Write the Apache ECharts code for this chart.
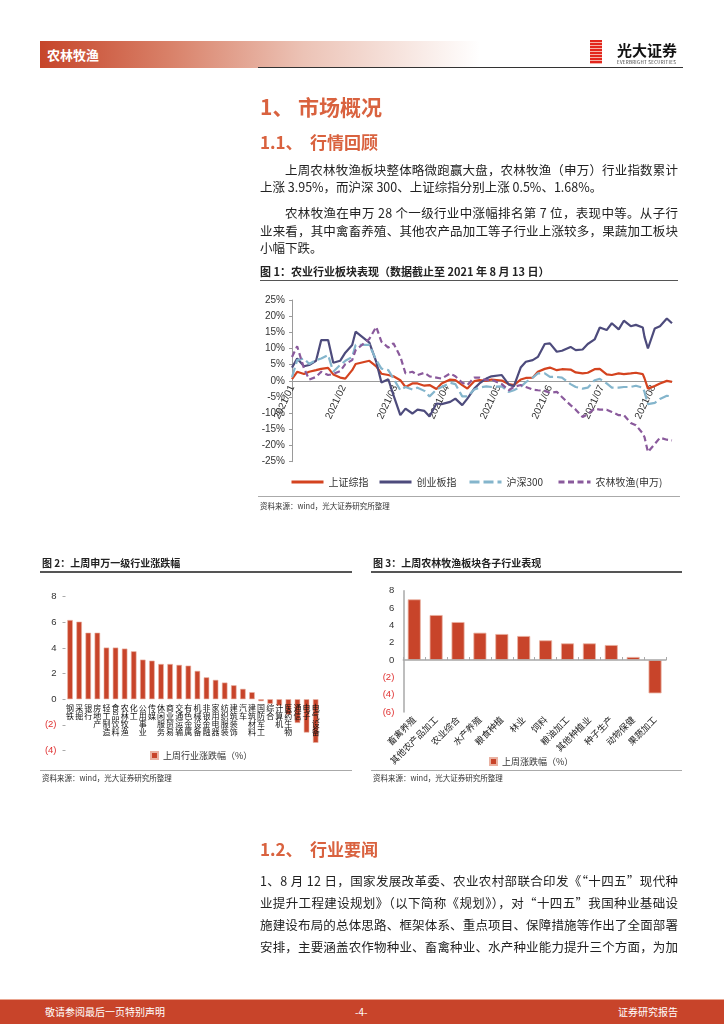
<!DOCTYPE html>
<html><head><meta charset="utf-8">
<script src="https://cdn.jsdelivr.net/npm/echarts@6/dist/echarts.min.js"></script>
<style>
html,body{margin:0;padding:0;background:#fff;}
#page{position:relative;width:724px;height:1024px;overflow:hidden;font-family:"Noto Sans CJK SC",sans-serif;color:#222;}
#chart{position:absolute;left:0;top:0;width:724px;height:1024px;z-index:1;}
.t{position:absolute;white-space:nowrap;line-height:1;z-index:2;}
.b{font-size:12.5px;color:#222;}
.h1{font-size:21px;color:#d9623f;font-weight:bold;}
.h2{font-size:17px;color:#d9623f;font-weight:bold;}
.cap{font-size:11px;font-weight:bold;color:#222;}
.cap2{font-size:10px;font-weight:bold;color:#222;}
.src{font-size:7.5px;color:#333;}
.ln{position:absolute;z-index:2;}
.ft{font-size:10px;color:#fff;}
</style></head>
<body><div id="page">
<div id="chart"></div>
<!-- header -->
<div class="ln" style="left:40px;top:41px;width:440px;height:27px;background:linear-gradient(to right,#c6452a 0%,#d9826a 30%,#ecc3b6 60%,#fff 100%);"></div>
<div class="t" style="left:47px;top:48px;font-size:13px;font-weight:bold;color:#fff;">农林牧渔</div>
<div class="ln" style="left:258px;top:67px;width:425px;height:1px;background:#333;"></div>
<div class="ln" style="left:590px;top:40px;width:12px;height:24px;background:repeating-linear-gradient(to bottom,#e3261d 0px,#e3261d 2px,#f6b3a8 2px,#f6b3a8 3px);"></div>
<div class="t" style="left:617px;top:42px;font-size:15px;font-weight:bold;color:#111;">光大证券</div>
<div class="t" style="left:617px;top:60px;font-size:4.5px;color:#333;letter-spacing:0.3px;">EVERBRIGHT SECURITIES</div>
<!-- section 1 -->
<div class="t h1" style="left:260px;top:96px;">1、</div>
<div class="t h1" style="left:298px;top:96px;">市场概况</div>
<div class="t h2" style="left:260px;top:133px;">1.1、</div>
<div class="t h2" style="left:310px;top:133px;">行情回顾</div>
<div class="t b j" data-w="393" style="left:285px;top:163.5px;">上周农林牧渔板块整体略微跑赢大盘，农林牧渔（申万）行业指数累计</div>
<div class="t b" style="left:260px;top:181px;">上涨 3.95%，而沪深 300、上证综指分别上涨 0.5%、1.68%。</div>
<div class="t b j" data-w="393" style="left:285px;top:207px;">农林牧渔在申万 28 个一级行业中涨幅排名第 7 位，表现中等。从子行</div>
<div class="t b j" data-w="418" style="left:260px;top:224.5px;">业来看，其中禽畜养殖、其他农产品加工等子行业上涨较多，果蔬加工板块</div>
<div class="t b" style="left:260px;top:242px;">小幅下跌。</div>
<div class="t cap" style="left:260px;top:266px;">图 1：农业行业板块表现（数据截止至 2021 年 8 月 13 日）</div>
<div class="ln" style="left:260px;top:279.5px;width:418px;height:1.5px;background:#555;"></div>
<div class="ln" style="left:258px;top:496px;width:422px;height:1px;background:#aaa;"></div>
<div class="t src" style="left:260px;top:502px;">资料来源：wind，光大证券研究所整理</div>
<!-- charts 2/3 captions -->
<div class="t cap2" style="left:42px;top:558px;">图 2：上周申万一级行业涨跌幅</div>
<div class="ln" style="left:40px;top:571px;width:312px;height:1.5px;background:#555;"></div>
<div class="t cap2" style="left:373px;top:558px;">图 3：上周农林牧渔板块各子行业表现</div>
<div class="ln" style="left:371px;top:571px;width:311px;height:1.5px;background:#555;"></div>
<div class="ln" style="left:40px;top:770px;width:312px;height:1px;background:#aaa;"></div>
<div class="ln" style="left:371px;top:770px;width:311px;height:1px;background:#aaa;"></div>
<div class="t src" style="left:42px;top:774px;">资料来源：wind，光大证券研究所整理</div>
<div class="t src" style="left:373px;top:774px;">资料来源：wind，光大证券研究所整理</div>
<!-- section 1.2 -->
<div class="t h2" style="left:260px;top:839.5px;">1.2、</div>
<div class="t h2" style="left:310px;top:839.5px;">行业要闻</div>
<div class="t b j" data-w="418" style="left:260px;top:874.5px;">1、8 月 12 日，国家发展改革委、农业农村部联合印发《“十四五”现代种</div>
<div class="t b j" data-w="418" style="left:260px;top:896.5px;">业提升工程建设规划》（以下简称《规划》），对“十四五”我国种业基础设</div>
<div class="t b j" data-w="418" style="left:260px;top:918.5px;">施建设布局的总体思路、框架体系、重点项目、保障措施等作出了全面部署</div>
<div class="t b j" data-w="418" style="left:260px;top:940.5px;">安排，主要涵盖农作物种业、畜禽种业、水产种业能力提升三个方面，为加</div>
<!-- footer -->
<div class="ln" style="left:0;top:999px;width:724px;height:25px;background:#c8442a;border-top:1px solid #eaa590;"></div>
<div class="t ft" style="left:45px;top:1007px;">敬请参阅最后一页特别声明</div>
<div class="t ft" style="left:355px;top:1007px;">-4-</div>
<div class="t ft" style="left:618px;top:1007px;">证券研究报告</div>
</div>
<script>
// ---------- data ----------
const dates = ['2021-01-04','2021-01-07','2021-01-11','2021-01-14','2021-01-18','2021-01-21','2021-01-25','2021-01-28',
'2021-02-01','2021-02-04','2021-02-08','2021-02-10','2021-02-18','2021-02-22','2021-02-25',
'2021-03-01','2021-03-04','2021-03-08','2021-03-11','2021-03-15','2021-03-18','2021-03-22','2021-03-25','2021-03-29',
'2021-04-01','2021-04-06','2021-04-09','2021-04-13','2021-04-16','2021-04-20','2021-04-23','2021-04-27','2021-04-30',
'2021-05-06','2021-05-10','2021-05-13','2021-05-17','2021-05-20','2021-05-24','2021-05-27','2021-05-31',
'2021-06-03','2021-06-07','2021-06-10','2021-06-15','2021-06-18','2021-06-22','2021-06-25','2021-06-29',
'2021-07-02','2021-07-06','2021-07-09','2021-07-13','2021-07-16','2021-07-20','2021-07-23','2021-07-27','2021-07-28','2021-07-30',
'2021-08-03','2021-08-06','2021-08-10','2021-08-13'];
const shComposite = [0.5, 2.8, 2.1, 2.8, 3.3, 3.7, 4.0, 2.0,
 1.0, 0.7, 3.3, 5.2, 6.2, 4.5, 2.2,
 1.8, 1.4, 0.2, -1.9, -0.8, -0.8, -1.5, -1.3, -2.5,
 -0.8, 0.4, 0.2, -1.3, -2.4, -0.1, 0.2, 0.0, 0.4,
 0.1, -1.0, -1.3, 0.4, 0.9, 1.0, 2.8, 3.7,
 4.1, 3.3, 3.6, 3.5, 2.6, 2.3, 2.5, 3.6,
 3.7, 2.0, 1.8, 2.3, 2.1, 2.3, 2.5, 2.1, 0.8, -2.4,
 -1.6, -0.8, 0.0, -0.3];
const chiNext = [4.1, 6.9, 4.5, 4.9, 6.2, 12.6, 12.6, 5.6,
 6.2, 8.7, 11.1, 15.2, 11.8, 5.9, -0.5,
 0.5, -4.4, -10.6, -8.6, -10.1, -8.9, -9.3, -11.0, -7.0,
 -7.2, -6.5, -5.5, -7.5, -5.5, -2.4, -0.8, 0.7, 1.4,
 1.8, -1.1, -1.7, 4.1, 5.9, 6.4, 7.4, 11.4,
 11.6, 9.0, 9.3, 10.5, 9.5, 9.7, 11.4, 12.8,
 16.5, 15.7, 17.8, 15.9, 18.6, 16.9, 17.3, 16.5, 13.6, 10.0,
 16.2, 16.9, 19.3, 17.8];
const csi300 = [1.1, 6.4, 6.9, 5.2, 6.4, 6.9, 8.0, 2.8,
 4.9, 6.2, 7.4, 11.1, 11.1, 6.4, 3.8,
 3.3, 0.7, -2.9, -1.9, -2.7, -2.1, -3.1, -4.8, -2.7,
 -1.9, -0.6, -1.0, -4.8, -4.8, -2.7, -2.1, -1.7, -1.9,
 -1.7, -3.4, -2.9, -1.9, -0.4, 1.0, 2.3, 2.3,
 1.2, 1.2, 1.0, -1.0, -1.9, -2.4, -2.1, 0.2,
 0.6, -0.8, -2.1, -2.1, -1.9, -1.9, -1.5, -2.1, -3.4, -7.2,
 -6.8, -5.6, -4.6, -4.8];
const agriSW = [7.4, 10.7, 3.8, 0.4, 1.2, 2.8, 1.8, 2.1,
 3.0, 5.2, 6.4, 9.5, 13.0, 16.7, 12.1,
 10.3, 11.6, 7.5, 2.3, 2.8, 1.8, 2.5, 1.4, 1.0,
 0.7, 2.3, 1.4, -0.6, -1.3, 1.0, 1.0, 0.2, 0.4,
 -1.0, -2.9, -1.9, -1.3, -1.9, -2.7, -2.9, -3.1,
 -3.7, -3.4, -5.0, -7.5, -8.9, -11.2, -10.3, -8.6,
 -8.9, -8.9, -9.6, -10.6, -10.6, -13.0, -13.7, -16.3, -17.4, -22.0,
 -19.5, -17.6, -18.2, -18.4];
const lineNames = ['上证综指','创业板指','沪深300','农林牧渔(申万)'];

const industries = ['钢铁','采掘','银行','房地产','轻工制造','食品饮料','农林牧渔','化工','公用事业','传媒','休闲服务','商业贸易','交通运输','有色金属',
 '机械设备','非银金融','家用电器','纺织服装','建筑装饰','汽车','建筑材料','国防军工','综合','计算机','医药生物','通信','电子','电气设备'];
const industryChg = [6.18, 6.05, 5.19, 5.19, 4.03, 4.03, 3.95, 3.74, 3.09, 3.01, 2.75, 2.75, 2.68, 2.62,
 2.21, 1.71, 1.51, 1.30, 1.09, 0.81, 0.55, -0.15, -0.36, -0.5, -1.2, -1.85, -2.6, -3.4];

const subIndustries = ['畜禽养殖','其他农产品加工','农业综合','水产养殖','粮食种植','林业','饲料','粮油加工','其他种植业','种子生产','动物保健','果蔬加工'];
const subIndustryChg = [7.0, 5.19, 4.38, 3.15, 3.0, 2.77, 2.27, 1.92, 1.92, 1.73, 0.35, -3.85];

// ---------- chart ----------
const BASE = Date.UTC(2021,0,4);
const toDay = s => (Date.UTC(+s.slice(0,4), +s.slice(5,7)-1, +s.slice(8,10)) - BASE) / 864e5;
const pair = arr => dates.map((d,i) => [toDay(d), arr[i]]);
const FONT = '"Liberation Sans","Noto Sans CJK SC",sans-serif';
const CJK = '"Noto Sans CJK SC",sans-serif';
const negFmt = v => v < 0 ? '{n|(' + (-v) + ')}' : String(v);
const monthFmt = v => { const d = new Date(BASE + v*864e5); const m = d.getUTCMonth()+1; return d.getUTCFullYear() + '/' + (m<10?'0':'') + m; };

const lineColors = ['#d4431f','#4d4b7c','#84b5cc','#8a5a9c'];
const lineDash = ['solid','solid',[10,4],[6,3.5]];
const lineData = [shComposite, chiNext, csi300, agriSW];
const legendLeft = [290, 378, 468, 557];

const G1 = {left:292, top:300, width:380, height:161.7};
const G2 = {left:65.5, top:596.7, width:254.7, height:153.8};
const G3 = {left:403.3, top:590.7, width:262.7, height:121.3};

const chart = echarts.init(document.getElementById('chart'), null, {renderer:'canvas'});
const option = {
  animation:false,
  textStyle:{fontFamily:FONT},
  grid:[G1, G2, G3],
  xAxis:[
    {gridIndex:0, type:'value', min:0, max:221, interval:30, position:'bottom',
     offset:-(G1.height/2),
     axisLine:{onZero:false, lineStyle:{color:'#9a9a9a', width:1}},
     axisTick:{show:false}, splitLine:{show:false},
     axisLabel:{rotate:65, fontSize:10, color:'#333', margin:5, showMaxLabel:false, formatter:monthFmt}},
    {gridIndex:1, type:'category', data:industries, z:5, position:'bottom',
     offset:-(G2.height*4/12),
     axisLine:{show:false, onZero:false}, axisTick:{show:false},
     axisLabel:{interval:0, fontSize:8, lineHeight:8, color:'#111', margin:5, fontFamily:CJK,
       formatter:s => s.split('').join('\n')}},
    {gridIndex:2, type:'category', data:subIndustries, z:5,
     axisLine:{onZero:true, lineStyle:{color:'#a8a8a8', width:1.5}},
     axisTick:{show:true, inside:true, length:3, lineStyle:{color:'#a8a8a8'}},
     axisLabel:{interval:0, rotate:45, fontSize:9, color:'#222', margin:6, fontFamily:CJK}}
  ],
  yAxis:[
    {gridIndex:0, type:'value', min:-25, max:25, interval:5,
     axisLine:{show:true, onZero:false, lineStyle:{color:'#9a9a9a'}}, axisTick:{show:true, length:3, lineStyle:{color:'#9a9a9a'}},
     splitLine:{show:false}, axisLabel:{formatter:'{value}%', fontSize:10, color:'#333', margin:7}},
    {gridIndex:1, type:'value', min:-4, max:8, interval:2,
     axisLine:{show:false}, axisTick:{show:true, length:3, lineStyle:{color:'#aaa'}},
     splitLine:{show:false}, axisLabel:{fontSize:9.5, color:'#333', margin:9, formatter:negFmt, rich:{n:{color:'#e03030', fontSize:9.5}}}},
    {gridIndex:2, type:'value', min:-6, max:8, interval:2,
     axisLine:{show:true, lineStyle:{color:'#a8a8a8', width:1.5}}, axisTick:{show:false},
     splitLine:{show:false}, axisLabel:{fontSize:9.5, color:'#333', margin:9, formatter:negFmt, rich:{n:{color:'#e03030', fontSize:9.5}}}}
  ],
  legend: lineNames.map((n,i) => ({
      data:[n], left:legendLeft[i], top:477, itemWidth:32, itemHeight:10, padding:0,
      itemStyle:{opacity:0, borderWidth:0},
      lineStyle:{width:3}, textStyle:{fontSize:10, color:'#333', fontFamily:CJK}
    })).concat([
    {data:['上周行业涨跌幅（%）'], left:150, top:751, icon:'rect', itemWidth:7, itemHeight:7, padding:0,
     textStyle:{fontSize:9, color:'#333', fontFamily:CJK}},
    {data:['上周涨跌幅（%）'], left:489, top:757, icon:'rect', itemWidth:7, itemHeight:7, padding:0, itemGap:2,
     textStyle:{fontSize:9, color:'#333', fontFamily:CJK}}
  ]),
  series: lineNames.map((n,i) => ({
      name:n, type:'line', xAxisIndex:0, yAxisIndex:0, data:pair(lineData[i]),
      symbol:'none', showSymbol:false,
      lineStyle:{color:lineColors[i], width:2.2, type:lineDash[i]}, itemStyle:{color:lineColors[i]}
    })).concat([
    {name:'上周行业涨跌幅（%）', type:'bar', xAxisIndex:1, yAxisIndex:1, data:industryChg, barWidth:5.5,
     itemStyle:{color:'#c8442a', borderColor:'#eab2a2', borderWidth:0.6}},
    {name:'上周涨跌幅（%）', type:'bar', xAxisIndex:2, yAxisIndex:2, data:subIndustryChg, barWidth:13,
     itemStyle:{color:'#c8442a', borderColor:'#eab2a2', borderWidth:0.8}}
  ])
};
chart.setOption(option);

function justify(){
  document.querySelectorAll('.j').forEach(el => {
    el.style.letterSpacing = '0px';
    const target = +el.dataset.w;
    const n = el.textContent.length;
    const w = el.getBoundingClientRect().width;
    el.style.letterSpacing = ((target - w) / (n - 1)) + 'px';
  });
}
justify();
if (document.fonts && document.fonts.ready) document.fonts.ready.then(justify);
</script>
</body></html>
